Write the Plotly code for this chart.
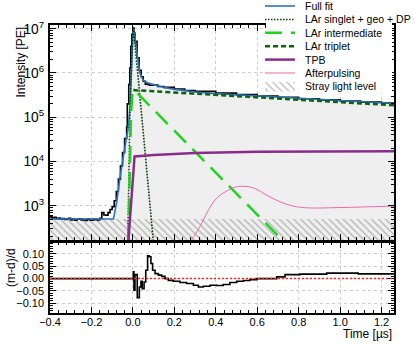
import plotly.graph_objects as go

# ---- measured waveform (binned, drawn as steps) ----
data_time = [-0.40, -0.39, -0.38, -0.37, -0.36, -0.35, -0.34, -0.33, -0.32, -0.31,
             -0.30, -0.29, -0.28, -0.27, -0.26, -0.25, -0.24, -0.23, -0.22, -0.21,
             -0.20, -0.19, -0.18, -0.17, -0.16, -0.15, -0.14, -0.13, -0.12, -0.11,
             -0.10, -0.09, -0.08, -0.07, -0.06, -0.05, -0.04, -0.03, -0.027, -0.02,
             -0.015, -0.01, -0.005, 0.0, 0.005, 0.01, 0.02, 0.03, 0.04, 0.05,
             0.06, 0.07, 0.08, 0.10, 0.12, 0.15, 0.20, 0.25, 0.30, 0.40,
             0.50, 0.60, 0.70, 0.80, 0.90, 1.00, 1.10, 1.20, 1.26]
data_pe = [560, 530, 545, 510, 525, 500, 515, 490, 505, 520,
           480, 500, 470, 495, 510, 475, 490, 465, 500, 480,
           470, 495, 485, 475, 520, 700, 620, 610, 700, 820,
           950, 1300, 2100, 4000, 8000, 1.6e4, 3.3e4, 6.0e4, 2.0e5, 5.5e5,
           1.3e6, 4.0e6, 7.5e6, 1.05e7, 8.0e6, 5.2e6, 2.2e6, 1.15e6, 8.2e5, 6.5e5,
           5.6e5, 5.5e5, 5.3e5, 5.34e5, 4.95e5, 4.72e5, 4.35e5, 4.02e5, 3.84e5, 3.5e5,
           3.25e5, 3.0e5, 2.82e5, 2.62e5, 2.47e5, 2.32e5, 2.2e5, 2.08e5, 2.0e5]

# ---- fit and its components ----
fit_time = [-0.40, -0.094, -0.078, -0.062, -0.041, -0.022, -0.014, -0.006, 0.002, 0.010,
            0.023, 0.034, 0.050, 0.074, 0.10, 0.15, 0.20, 0.25, 0.30, 0.40,
            0.50, 0.60, 0.75, 1.00, 1.26]
fit_pe = [500, 500, 1230, 4470, 1.8e4, 6.0e4, 1.7e5, 1.95e6, 1.1e7, 5.5e6,
          1.95e6, 9.8e5, 6.9e5, 5.9e5, 5.45e5, 4.72e5, 4.26e5, 3.94e5, 3.71e5, 3.41e5,
          3.2e5, 3.0e5, 2.74e5, 2.37e5, 2.04e5]

singlet_time = [-0.025, -0.02, -0.014, -0.006, 0.002, 0.099]
singlet_pe = [150, 3.0e3, 1.5e5, 1.9e6, 1.1e7, 150]

geo_time = [0.008, 0.099]
geo_pe = [8.0e6, 150]

intermediate_time = [-0.022, -0.017, -0.014, -0.009, -0.003, 0.007, 0.76]
intermediate_pe = [160, 1.9e3, 1.5e4, 1.2e5, 3.2e5, 4.1e5, 110]

triplet_time = [0.002, 1.26]
triplet_pe = [4.1e5, 1.86e5]

tpb_time = [-0.022, 0.008, 0.10, 0.30, 0.60, 1.00, 1.26]
tpb_pe = [160, 1.3e4, 1.4e4, 1.55e4, 1.65e4, 1.7e4, 1.7e4]

afterpulse_time = [0.28, 0.324, 0.364, 0.404, 0.452, 0.493, 0.541, 0.589, 0.645, 0.710,
                   0.774, 0.854, 0.95, 1.05, 1.15, 1.26]
afterpulse_pe = [160, 340, 790, 1480, 2140, 2630, 2750, 2450, 1740, 1230,
                 980, 890, 900, 920, 950, 980]

stray_level = 500
time_range = [-0.4, 1.26]

# ---- residuals (m-d)/d ----
res_time = [-0.40, -0.001, 0.002, 0.005, 0.010, 0.021, 0.031, 0.039, 0.045, 0.054,
            0.062, 0.071, 0.079, 0.087, 0.095, 0.107, 0.123, 0.139, 0.155, 0.171,
            0.195, 0.227, 0.259, 0.292, 0.316, 0.340, 0.372, 0.404, 0.436, 0.468,
            0.501, 0.533, 0.565, 0.597, 0.694, 0.734, 0.806, 0.935, 1.087, 1.26]
res_val = [0.0, 0.0, 0.027, -0.047, 0.016, -0.077, -0.034, -0.011, -0.041, -0.014,
           0.034, 0.092, 0.088, 0.061, 0.034, 0.020, 0.014, 0.009, 0.0, -0.007,
           -0.011, -0.016, -0.020, -0.027, -0.034, -0.031, -0.027, -0.028, -0.024, -0.016,
           -0.011, -0.008, -0.004, 0.0, 0.007, 0.016, 0.018, 0.022, 0.019, 0.019]

legend_labels = ["Full fit", "LAr singlet + geo + DP", "LAr intermediate", "LAr triplet",
                 "TPB", "Afterpulsing", "Stray light level"]

FONT = "Liberation Sans, Arial, sans-serif"
HATCH = dict(shape="\\", fgcolor="#7a7a7a", size=5, solidity=0.28)

styles = [
    dict(color="#2c72b8", width=1.6),
    dict(color="#0c3d0c", width=1.5, dash="1.5px,1.5px"),
    dict(color="#1fd41f", width=2.5, dash="17px,9px"),
    dict(color="#0a640a", width=2.5, dash="5px,3px"),
    dict(color="#8a2d8a", width=2.5),
    dict(color="#ee6aaa", width=1),
]

# plot area in pixels: x 50..394, y 25..313
def px_x(px):
    return (px - 50) / 344

def px_y(py):
    return (313 - py) / 288

fig = go.Figure()

# grey area under the full fit
fig.add_trace(go.Scatter(x=fit_time, y=fit_pe, fill="tozeroy", fillcolor="#efefef",
                         line=dict(width=0), mode="lines", xaxis="x", yaxis="y"))
# stray light band (hatched)
fig.add_trace(go.Scatter(x=time_range, y=[stray_level, stray_level], fill="tozeroy",
                         fillcolor="rgba(0,0,0,0)", mode="lines", line=dict(width=0),
                         fillpattern=dict(HATCH, bgcolor="rgba(0,0,0,0)"),
                         xaxis="x", yaxis="y"))
fig.add_trace(go.Scatter(x=data_time, y=data_pe, mode="lines", line_shape="hv",
                         line=dict(color="black", width=1.6), xaxis="x", yaxis="y"))
fig.add_trace(go.Scatter(x=fit_time, y=fit_pe, mode="lines", line=styles[0], xaxis="x", yaxis="y"))
fig.add_trace(go.Scatter(x=geo_time, y=geo_pe, mode="lines",
                         line=dict(color="#7d8d7d", width=1.2, dash="1.5px,1.5px"), xaxis="x", yaxis="y"))
fig.add_trace(go.Scatter(x=singlet_time, y=singlet_pe, mode="lines", line=styles[1], xaxis="x", yaxis="y"))
fig.add_trace(go.Scatter(x=intermediate_time, y=intermediate_pe, mode="lines", line=styles[2],
                         xaxis="x", yaxis="y"))
fig.add_trace(go.Scatter(x=triplet_time, y=triplet_pe, mode="lines", line=styles[3], xaxis="x", yaxis="y"))
fig.add_trace(go.Scatter(x=tpb_time, y=tpb_pe, mode="lines", line=styles[4], xaxis="x", yaxis="y"))
fig.add_trace(go.Scatter(x=afterpulse_time, y=afterpulse_pe, mode="lines", line_shape="spline",
                         line=styles[5], xaxis="x", yaxis="y"))

# residual panel
fig.add_trace(go.Scatter(x=res_time, y=res_val, mode="lines", line_shape="hv",
                         line=dict(color="black", width=1.6), xaxis="x2", yaxis="y2"))

# legend swatch for the hatched band
fig.add_trace(go.Bar(x=[0.5], y=[1], width=1, xaxis="x3", yaxis="y3",
                     marker=dict(color="rgba(0,0,0,0)", line_width=0, pattern=HATCH)))

fig.update_traces(showlegend=False, hoverinfo="skip")

axis_common = dict(showline=True, linecolor="black", linewidth=1.5, mirror="allticks",
                   ticks="inside", ticklen=6, tickwidth=1, tickcolor="black", automargin=False,
                   showgrid=True, gridcolor="#cccccc", griddash="dot", gridwidth=1,
                   zeroline=False, tickfont=dict(size=11, family=FONT, color="black"))

fig.update_layout(
    width=415, height=347,
    margin=dict(l=50, r=21, t=25, b=34),
    paper_bgcolor="white", plot_bgcolor="white",
    font=dict(family=FONT, size=11, color="black"),
    showlegend=False,
    xaxis=dict(axis_common, domain=[0, 1], anchor="y", range=time_range, dtick=0.2, tick0=0,
               showticklabels=False, matches="x2",
               minor=dict(ticks="inside", ticklen=3, dtick=0.04, tick0=0, showgrid=False, tickcolor="black")),
    yaxis=dict(axis_common, domain=[px_y(240), 1], anchor="x", type="log", range=[2.226, 7.084],
               dtick=1, exponentformat="power", showexponent="all", ticklabelstandoff=2,
               minor=dict(ticks="inside", ticklen=3, dtick="D1", showgrid=False, tickcolor="black")),
    xaxis2=dict(axis_common, domain=[0, 1], anchor="y2", range=time_range, dtick=0.2, tick0=0,
                tickformat=".1f", ticklabelstandoff=-2,
                minor=dict(ticks="inside", ticklen=3, dtick=0.04, tick0=0, showgrid=False, tickcolor="black")),
    yaxis2=dict(axis_common, domain=[0, px_y(242.7)], anchor="x2", range=[-0.139, 0.145],
                dtick=0.05, tick0=0, tickformat=".2f", ticklabelstandoff=2,
                minor=dict(ticks="inside", ticklen=3, dtick=0.01, showgrid=False, tickcolor="black")),
    xaxis3=dict(domain=[px_x(265), px_x(295)], anchor="y3", range=[0, 1], visible=False, fixedrange=True),
    yaxis3=dict(domain=[px_y(91.5), px_y(81.5)], anchor="x3", range=[0, 1], visible=False, fixedrange=True),
    bargap=0,
)

# red zero line in the residual panel
fig.add_shape(type="line", xref="x2 domain", yref="y2", x0=0, x1=1, y0=0, y1=0,
              line=dict(color="#ff2020", width=1.5, dash="2px,2px"))

# white legend box (leaves a hole for the hatch swatch)
for (x0, y0, x1, y1) in [(266, 18, 392, 81.5), (295, 81.5, 392, 93)]:
    fig.add_shape(type="rect", xref="paper", yref="paper", layer="above",
                  x0=px_x(x0), x1=px_x(x1), y0=px_y(y1), y1=px_y(y0),
                  fillcolor="white", line=dict(width=0))

for i, label in enumerate(legend_labels):
    yc = 6 + 13.4 * i
    if i < len(styles):
        fig.add_shape(type="line", xref="paper", yref="paper", layer="above",
                      x0=px_x(265), x1=px_x(295), y0=px_y(yc), y1=px_y(yc), line=styles[i])
    fig.add_annotation(text=label, xref="paper", yref="paper", x=px_x(303), y=px_y(yc),
                       xanchor="left", yanchor="middle", showarrow=False,
                       font=dict(size=10.5, family=FONT, color="black"))

fig.add_annotation(text="Intensity [PE]", textangle=-90, xref="paper", yref="paper",
                   x=px_x(20), y=px_y(25), xanchor="center", yanchor="top", showarrow=False,
                   font=dict(size=12, family=FONT))
fig.add_annotation(text="(m-d)/d", textangle=-90, xref="paper", yref="paper",
                   x=px_x(11), y=px_y(246.5), xanchor="center", yanchor="top", showarrow=False,
                   font=dict(size=12, family=FONT))
fig.add_annotation(text="Time [µs]", xref="paper", yref="paper",
                   x=px_x(394), y=px_y(334), xanchor="right", yanchor="middle", showarrow=False,
                   font=dict(size=12, family=FONT))

# the page is photographed at exactly the figure size, so drop the default body margin
fig.write_html("out.html", config={"displayModeBar": False},
               post_script="document.body.style.margin='0';")
